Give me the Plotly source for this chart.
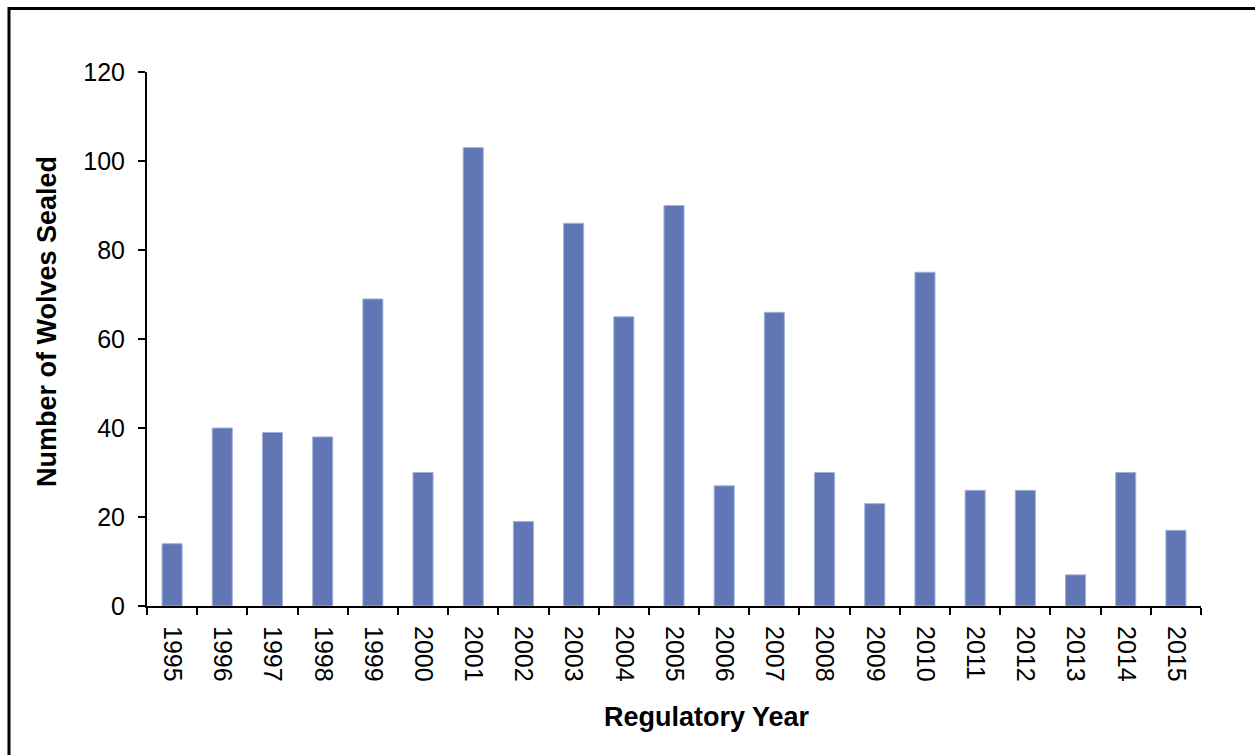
import plotly.graph_objects as go

years = ["1995", "1996", "1997", "1998", "1999", "2000", "2001", "2002", "2003", "2004",
         "2005", "2006", "2007", "2008", "2009", "2010", "2011", "2012", "2013", "2014", "2015"]
wolves = [14, 40, 39, 38, 69, 30, 103, 19, 86, 65, 90, 27, 66, 30, 23, 75, 26, 26, 7, 30, 17]
y_ticks = [0, 20, 40, 60, 80, 100, 120]
x_title = "Regulatory Year"
y_title = "Number of Wolves Sealed"

W, H = 1255, 755
ml, mr, mt, mb = 147, 54, 72, 149
pw, ph = W - ml - mr, H - mt - mb


def px_x(p):
    return (p - ml) / pw


def px_y(p):
    return (H - mb - p) / ph


fig = go.Figure(go.Bar(
    x=years, y=wolves,
    marker=dict(color="#6177B5", line=dict(color="#A3B2DA", width=1)),
))

font_family = "Liberation Sans, Arial, sans-serif"

fig.update_layout(
    width=W, height=H,
    margin=dict(l=ml, r=mr, t=mt, b=mb, autoexpand=False),
    paper_bgcolor="white", plot_bgcolor="white",
    bargap=0.6, showlegend=False,
    font=dict(family=font_family, color="black"),
    xaxis=dict(
        type="category", tickangle=90, tickson="boundaries",
        ticks="outside", ticklen=7, tickwidth=2, tickcolor="black",
        showline=True, linecolor="black", linewidth=2,
        showgrid=False, zeroline=False,
        tickfont=dict(size=25, family=font_family, color="black"),
        ticklabelstandoff=13,
        automargin=False,
    ),
    yaxis=dict(
        range=[0, 120], tickvals=y_ticks,
        ticks="outside", ticklen=7, tickwidth=2, tickcolor="black",
        showline=True, linecolor="black", linewidth=2,
        showgrid=False, zeroline=False,
        tickfont=dict(size=25, family=font_family, color="black"),
        ticklabelstandoff=8,
        automargin=False,
    ),
    annotations=[
        dict(text="<b>%s</b>" % x_title, xref="paper", yref="paper",
             x=px_x(707), y=px_y(717), xanchor="center", yanchor="middle",
             showarrow=False, font=dict(size=27, family=font_family, color="black")),
        dict(text="<b>%s</b>" % y_title, xref="paper", yref="paper",
             x=px_x(47), y=px_y(322), xanchor="center", yanchor="middle",
             textangle=-90, showarrow=False,
             font=dict(size=27, family=font_family, color="black")),
    ],
    shapes=[dict(
        type="rect", xref="paper", yref="paper",
        x0=px_x(9), x1=1.2, y0=-0.5, y1=px_y(8.5),
        line=dict(color="black", width=3), fillcolor="rgba(0,0,0,0)",
        layer="above",
    )],
)

fig.write_html("out.html", config={"displayModeBar": False})

with open("out.html", "r", encoding="utf-8") as f:
    html = f.read()
html = html.replace("<body>", '<body style="margin:0;padding:0;overflow:hidden;">', 1)
with open("out.html", "w", encoding="utf-8") as f:
    f.write(html)
